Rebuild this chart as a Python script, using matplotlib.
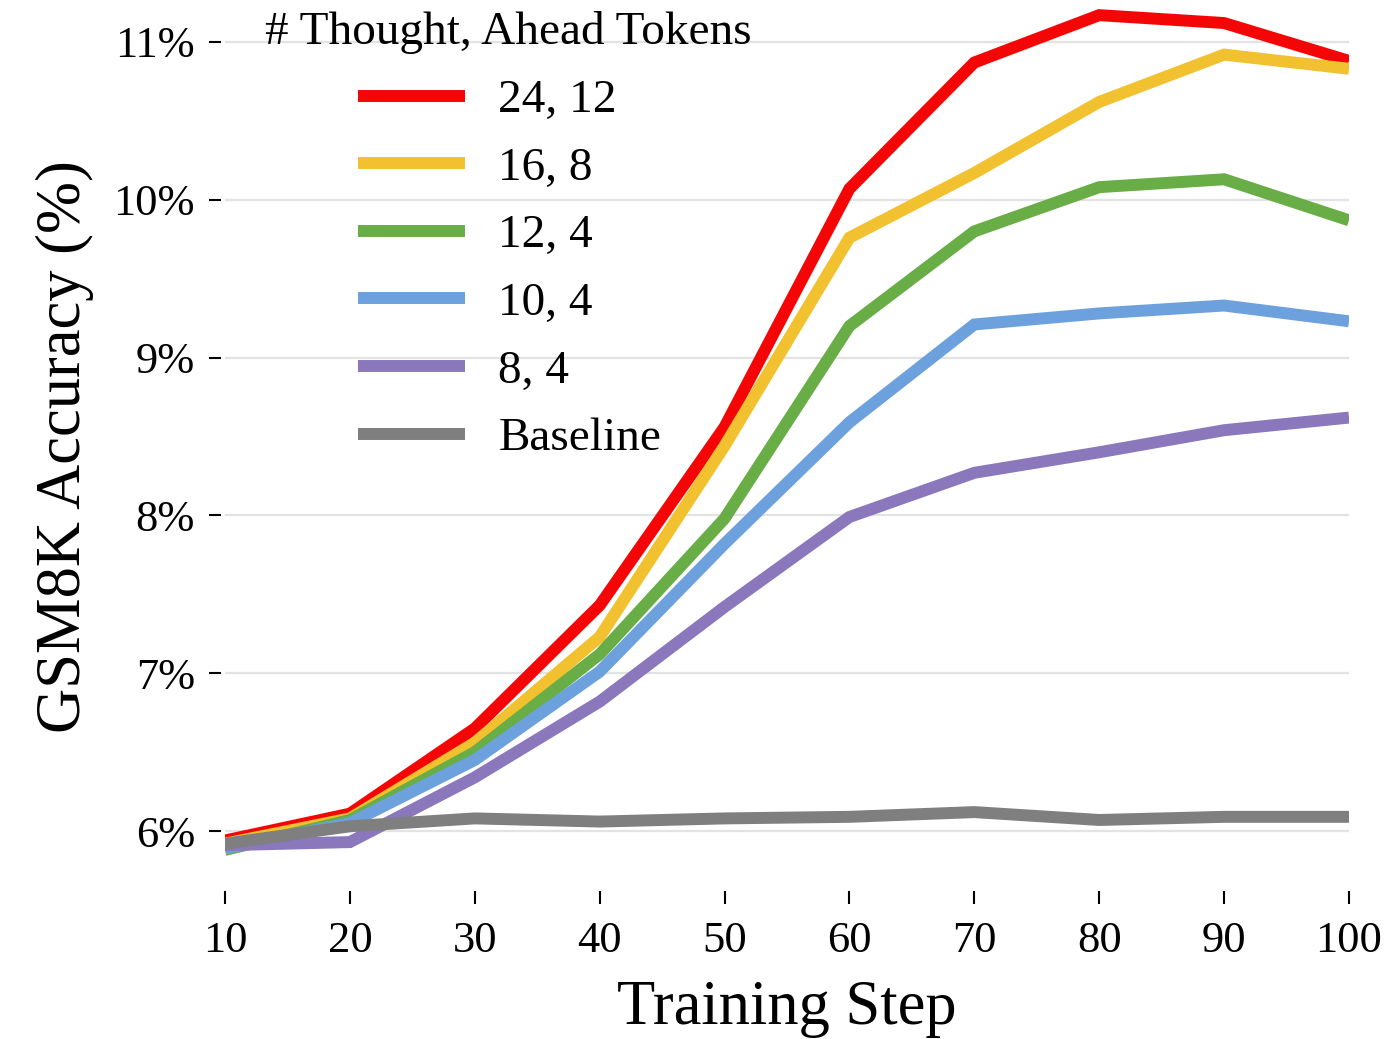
import matplotlib
matplotlib.use("Agg")
import matplotlib.pyplot as plt

plt.rcParams["font.family"] = ["Liberation Serif", "DejaVu Serif"]

# Training steps and GSM8K accuracy (%) per configuration
steps = [10, 20, 30, 40, 50, 60, 70, 80, 90, 100]
acc_24_12 = [5.94, 6.11, 6.65, 7.43, 8.56, 10.07, 10.87, 11.17, 11.12, 10.88]
acc_16_8 = [5.92, 6.08, 6.56, 7.23, 8.44, 9.76, 10.17, 10.62, 10.92, 10.83]
acc_12_4 = [5.88, 6.07, 6.50, 7.12, 7.98, 9.20, 9.80, 10.08, 10.13, 9.87]
acc_10_4 = [5.89, 6.05, 6.45, 7.01, 7.82, 8.59, 9.21, 9.28, 9.33, 9.23]
acc_8_4 = [5.91, 5.93, 6.34, 6.82, 7.42, 7.99, 8.27, 8.40, 8.54, 8.62]
acc_baseline = [5.92, 6.03, 6.08, 6.06, 6.08, 6.09, 6.12, 6.07, 6.09, 6.09]

series_labels = ["24, 12", "16, 8", "12, 4", "10, 4", "8, 4", "Baseline"]
series_colors = ["#f50606", "#f2c12f", "#69ad47", "#6ca1de", "#8b77bb", "#7f7f7f"]

ytick_values = [6, 7, 8, 9, 10, 11]
ytick_labels = ["6%", "7%", "8%", "9%", "10%", "11%"]

fig = plt.figure(figsize=(13.89, 10.39), dpi=100)
ax = fig.add_axes([225 / 1389, 1 - 891 / 1039, (1349 - 225) / 1389, (891 - 3) / 1039])

all_series = [acc_24_12, acc_16_8, acc_12_4, acc_10_4, acc_8_4, acc_baseline]
for values, label, color in zip(all_series, series_labels, series_colors):
    ax.plot(steps, values, color=color, lw=8.6, label=label,
            solid_capstyle="butt", solid_joinstyle="miter")

ax.set_xlim(10, 100)
ax.set_ylim(5.62, 11.247)
ax.set_xticks(steps)
ax.set_xticklabels([str(s) for s in steps])
ax.set_yticks(ytick_values)
ax.set_yticklabels(ytick_labels)

ax.grid(axis="y", color="#e3e3e3", lw=1.6)
ax.set_axisbelow(True)
for side in ["top", "right", "bottom", "left"]:
    ax.spines[side].set_visible(False)
ax.spines["left"].set_position(("outward", 3))

ax.tick_params(axis="x", length=9.5, width=1.5, pad=12, labelsize=32, color="black")
ax.tick_params(axis="y", length=8.6, width=1.5, pad=10, labelsize=32, color="black")

ax.set_xlabel("Training Step", fontsize=45, labelpad=14)
ax.set_ylabel("GSM8K Accuracy (%)", fontsize=45, labelpad=14)

fig.text(265 / 1389, 1 - 32 / 1039, "# Thought, Ahead Tokens", fontsize=34,
         ha="left", va="center")

leg = ax.legend(loc="upper left", bbox_to_anchor=(358 / 1389, 1 - 79 / 1039),
                bbox_transform=fig.transFigure, frameon=False, fontsize=34,
                handlelength=2.27, handletextpad=0.7, labelspacing=0.52,
                borderpad=0, borderaxespad=0)
for line in leg.get_lines():
    line.set_linewidth(8.6)
    line.set_solid_capstyle("butt")

fig.savefig("out.png", dpi=100, facecolor="white")
